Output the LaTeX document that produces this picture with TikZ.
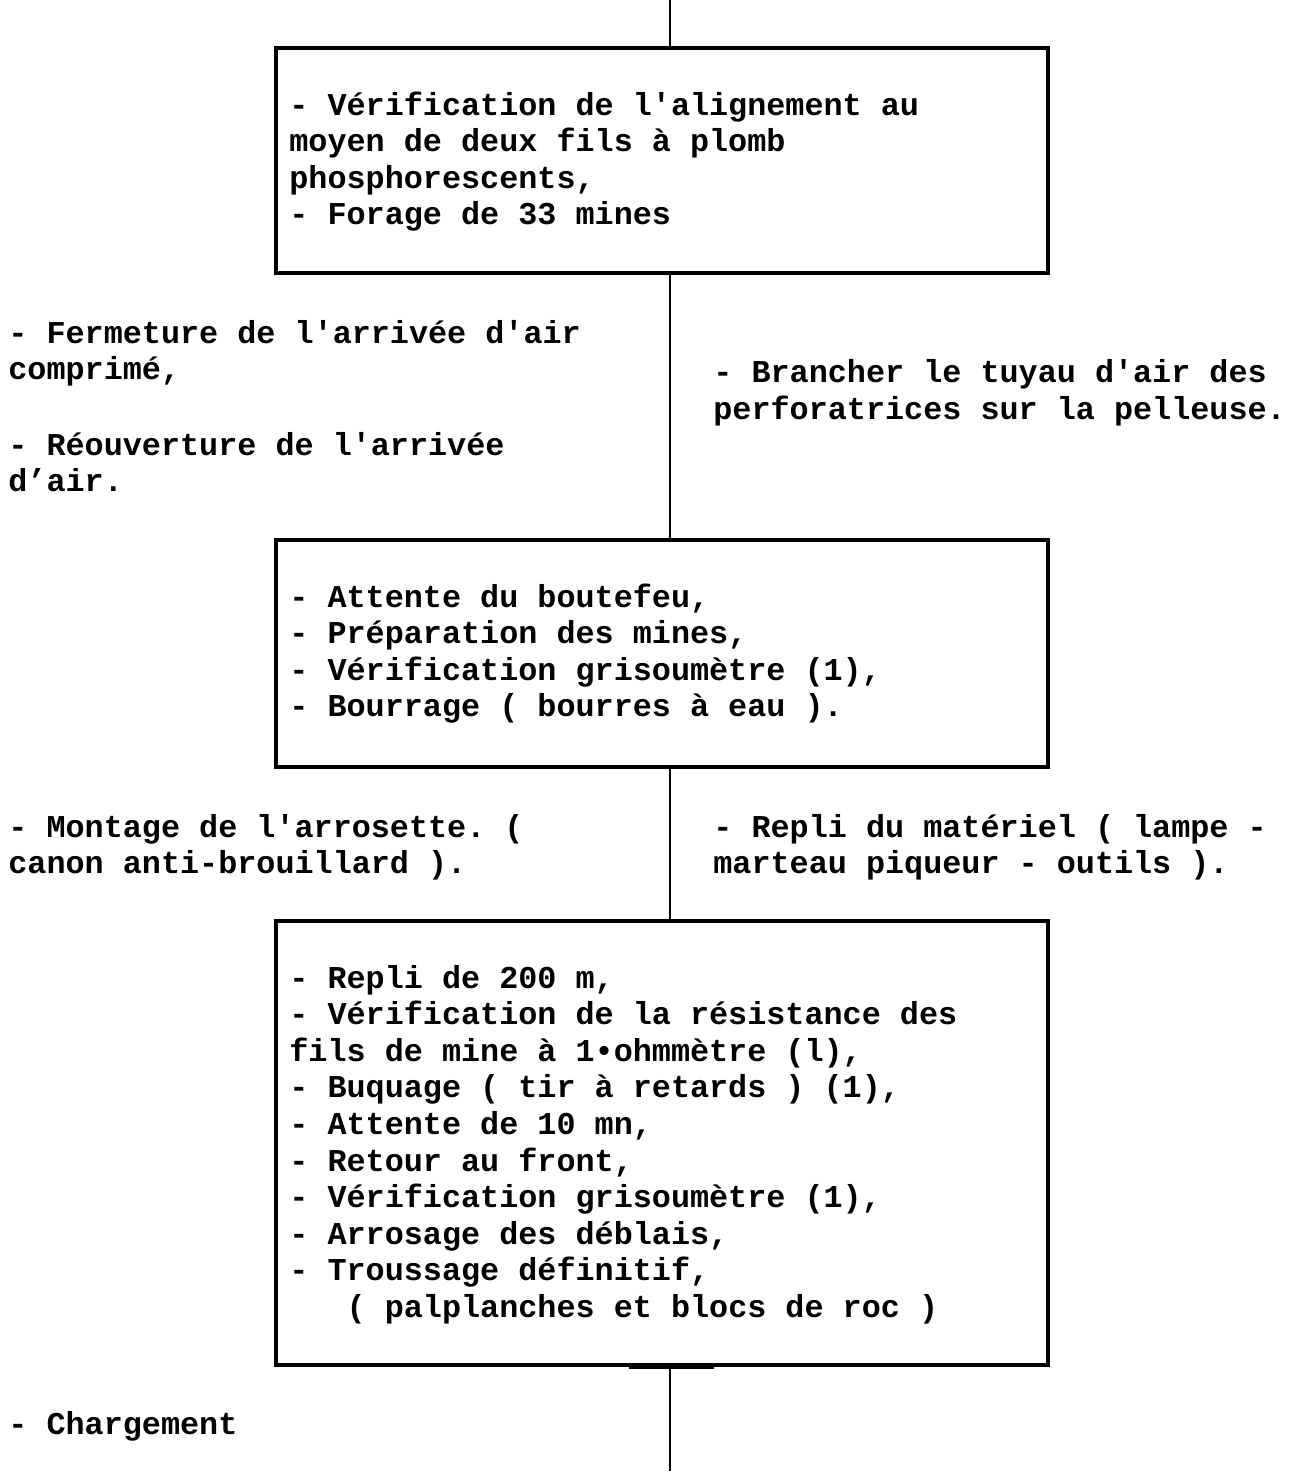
\documentclass[tikz,border=0pt]{standalone}
\usepackage{fontspec}
\setmonofont{Liberation Mono}
\begin{document}
\begin{tikzpicture}[x=0.5pt,y=-0.5pt,
  stepbox/.style={draw,line width=2pt,inner sep=0pt,minimum width=386pt},
  txt/.style={anchor=base west,inner sep=0pt,align=left,
    font=\ttfamily\bfseries\fontsize{15.9pt}{18.3pt}\selectfont},
  link/.style={line width=1pt}]
\useasboundingbox (0,0) rectangle (1306,1473);
% boxes
\node[stepbox,minimum height=112.5pt] (b1) at (662,160.5) {};
\node[stepbox,minimum height=113.5pt] (b2) at (662,653.5) {};
\node[stepbox,minimum height=222pt] (b3) at (662,1143) {};
% connectors
\coordinate (top) at (670,0);
\coordinate (bot) at (670,1471);
\draw[link] (top) -- (top |- b1.north);
\draw[link] (b1.south -| top) -- (b2.north -| top);
\draw[link] (b2.south -| top) -- (b3.north -| top);
\draw[link] (b3.south -| top) -- (bot);
\draw[line width=2.2pt] (629,1367) -- (714,1367);
% box texts (anchor = baseline of the last line)
\node[txt] (t1) at (289,224.8) {- Vérification de l'alignement au\\moyen de deux fils à plomb\\phosphorescents,\\- Forage de 33 mines};
\node[txt] (t2) at (289,716.8) {- Attente du boutefeu,\\- Préparation des mines,\\- Vérification grisoumètre (1),\\- Bourrage ( bourres à eau ).};
\node[txt] (t3) at (289,1317.4) {- Repli de 200 m,\\- Vérification de la résistance des\\fils de mine à 1•ohmmètre (l),\\- Buquage ( tir à retards ) (1),\\- Attente de 10 mn,\\- Retour au front,\\- Vérification grisoumètre (1),\\- Arrosage des déblais,\\- Troussage définitif,\\\ \ \ ( palplanches et blocs de roc )};
% side texts
\node[txt] (l1) at (8,379.6) {- Fermeture de l'arrivée d'air\\comprimé,};
\node[txt] (l2) at (8,491.6) {- Réouverture de l'arrivée\\d’air.};
\node[txt] (r1) at (713,419.1) {- Brancher le tuyau d'air des\\perforatrices sur la pelleuse.};
\node[txt] (l3) at (8,873.6) {- Montage de l'arrosette. (\\canon anti-brouillard ).};
\node[txt] (r2) at (713,873.6) {- Repli du matériel ( lampe -\\marteau piqueur - outils ).};
\node[txt] (l4) at (8,1434) {- Chargement};
\end{tikzpicture}
\end{document}
